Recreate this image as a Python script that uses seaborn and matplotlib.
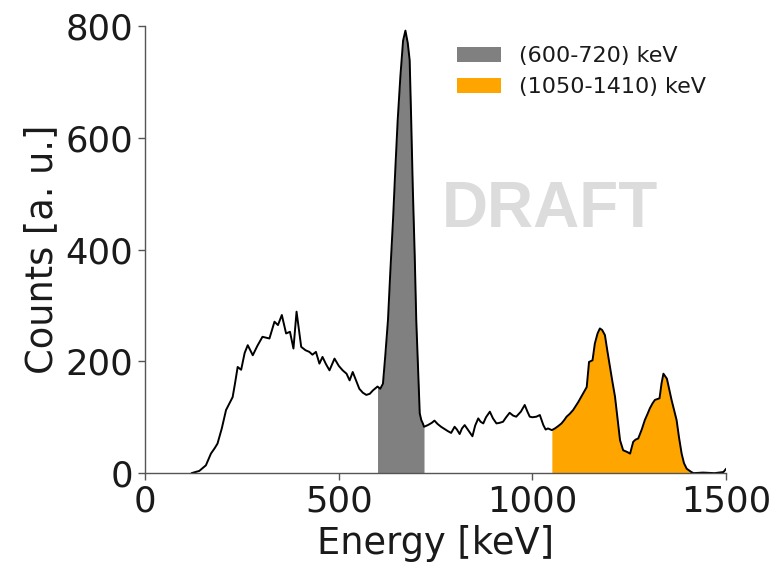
import numpy as np
import pandas as pd
import matplotlib
matplotlib.use("Agg")
import matplotlib.pyplot as plt
import seaborn as sns

# Spectrum: energy [keV] and counts [a. u.]
energy = [120, 140, 157, 170, 180, 187, 198, 209, 218, 226, 232, 239, 248, 257, 265,
          278, 290, 303, 321, 334, 343, 353, 364, 374, 383, 391, 403, 414, 424, 432,
          441, 450, 458, 467, 476, 489, 500, 510, 520, 528, 536, 545, 553, 562, 571,
          580, 588, 600, 607, 614, 620, 627, 633, 640, 646, 652, 659, 666, 672, 678,
          683, 687, 691, 696, 700, 705, 709, 713, 717, 720, 730, 740, 747, 755, 764,
          775, 782, 790, 799, 805, 812, 818, 825, 835, 845, 852, 860, 866, 873, 880,
          890, 898, 907, 915, 924, 932, 941, 950, 958, 970, 980, 987, 993, 1000, 1010,
          1019, 1028, 1034, 1040, 1050, 1058, 1066, 1075, 1082, 1088, 1096, 1105, 1118,
          1131, 1140, 1146, 1155, 1161, 1168, 1174, 1180, 1187, 1193, 1200, 1206, 1213,
          1220, 1226, 1234, 1244, 1252, 1260, 1266, 1273, 1282, 1290, 1297, 1303, 1310,
          1316, 1328, 1333, 1338, 1347, 1353, 1359, 1366, 1372, 1378, 1385, 1391, 1398,
          1410, 1416, 1440, 1470, 1493, 1500]
counts = [0, 4, 14, 35, 45, 53, 80, 113, 125, 136, 160, 190, 185, 215, 229,
          211, 228, 244, 241, 271, 265, 283, 250, 253, 223, 289, 226, 220, 217, 212,
          217, 196, 208, 195, 184, 205, 192, 184, 178, 166, 181, 165, 151, 144, 140,
          142, 148, 155, 151, 160, 210, 274, 360, 453, 545, 631, 710, 774, 792, 770,
          739, 630, 512, 390, 274, 180, 107, 95, 89, 83, 86, 90, 94, 88, 83,
          78, 75, 72, 83, 78, 70, 80, 86, 76, 66, 85, 98, 92, 89, 100,
          110, 98, 89, 90, 92, 100, 108, 103, 101, 110, 122, 110, 101, 100, 101,
          104, 86, 78, 80, 77, 80, 84, 89, 95, 101, 106, 113, 127,
          143, 154, 199, 202, 232, 250, 259, 256, 247, 220, 190, 165, 137,
          95, 59, 41, 38, 35, 56, 60, 62, 78, 95, 106, 116, 125,
          131, 134, 160, 178, 169, 150, 131, 112, 95, 65, 35, 18, 8,
          2, 0, 1, 0, 2, 8]

# Highlighted energy windows
windows = [(600, 720), (1050, 1410)]
window_colors = ["#808080", "#ffa500"]
window_labels = ["(600-720) keV", "(1050-1410) keV"]

df = pd.DataFrame({"Energy": energy, "Counts": counts})

sns.set_style("ticks")
plt.rcParams["font.family"] = ["DejaVu Sans"]
text_color = "#1a1a1a"
axis_color = "#555555"

fig = plt.figure(figsize=(7.8, 5.68), dpi=100)
ax = fig.add_axes([0.186, 0.167, 0.745, 0.787])

e = np.asarray(energy, dtype=float)
c = np.asarray(counts, dtype=float)
for (lo, hi), col, lab in zip(windows, window_colors, window_labels):
    mask = (e >= lo) & (e <= hi)
    ax.fill_between(e[mask], 0, c[mask], color=col, lw=0, label=lab)

sns.lineplot(data=df, x="Energy", y="Counts", color="black", lw=1.4, ax=ax,
             estimator=None, sort=False)

ax.set_xlim(0, 1500)
ax.set_ylim(0, 800)
ax.set_xticks([0, 500, 1000, 1500])
ax.set_yticks([0, 200, 400, 600, 800])
ax.set_xlabel("Energy [keV]", fontsize=26.5, color=text_color)
ax.set_ylabel("Counts [a. u.]", fontsize=26.5, color=text_color)
ax.tick_params(labelsize=25.5, length=5, width=1, color=axis_color,
               labelcolor=text_color)
sns.despine(ax=ax)
for side in ("left", "bottom"):
    ax.spines[side].set_color(axis_color)
    ax.spines[side].set_linewidth(1.0)

leg = ax.legend(loc="upper right", frameon=False, fontsize=16)
for t in leg.get_texts():
    t.set_color(text_color)

ax.text(0.697, 0.588, "DRAFT", transform=ax.transAxes, ha="center", va="center",
        fontsize=46, fontweight="bold", color="#dcdcdc",
        family=["Liberation Sans", "DejaVu Sans"], zorder=0)

fig.savefig("out.png", dpi=100)
